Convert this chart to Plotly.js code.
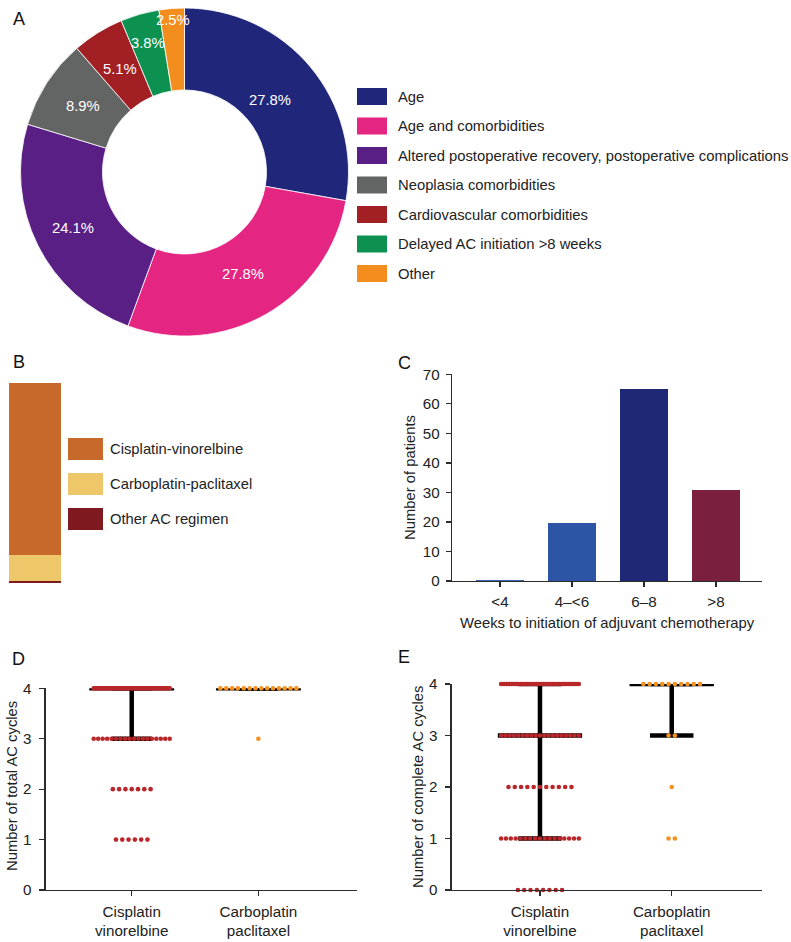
<!DOCTYPE html>
<html><head><meta charset="utf-8">
<script src="https://cdn.plot.ly/plotly-3.0.1.min.js"></script>
<style>html,body{margin:0;padding:0;background:#fff}#chart{width:791px;height:942px}</style>
</head><body><div id="chart"></div>
<script>
// ---------- Panel A: reasons ----------
const reasonLabels = ["Age","Age and comorbidities","Altered postoperative recovery, postoperative complications","Neoplasia comorbidities","Cardiovascular comorbidities","Delayed AC initiation >8 weeks","Other"];
const reasonPercents = [27.8,27.8,24.1,8.9,5.1,3.8,2.5];
const reasonColors = ["#20277a","#e52582","#5a1f85","#636464","#a21f24","#0d9150","#f38d1d"];

// ---------- Panel B: regimens ----------
const regimenLabels = ["Cisplatin-vinorelbine","Carboplatin-paclitaxel","Other AC regimen"];
const regimenCounts = [100,15,1];
const regimenColors = ["#c7692a","#edc76a","#7e1a1f"];

// ---------- Panel C: weeks to initiation ----------
const weekCategories = ["<4","4–<6","6–8",">8"];
const weekCounts = [0.5,19.6,65,30.7];
const weekColors = ["#3b67b6","#2d55a5","#1f2874","#7a1f3d"];

// ---------- Panels D/E: cycles ----------
const cycleLevels = [0,1,2,3,4];
const groupLabels = ["Cisplatin<br>vinorelbine","Carboplatin<br>paclitaxel"];
// patients per cycle level (0..4)
const totalCyclesCis = [0,6,7,18,69];
const totalCyclesCarbo = [0,0,0,1,14];
const totalMedian = [4,4], totalQ1 = [3,4], totalQ3 = [4,4];
const completeCyclesCis = [8,17,11,19,45];
const completeCyclesCarbo = [0,2,1,2,10];
const completeMedian = [3,4], completeQ1 = [1,3], completeQ3 = [4,4];
const groupDotColors = ["#b9272b","#f4901e"];

// ---------- helpers ----------
const W = 791, H = 942;
const px = p => p / W;
const py = p => 1 - p / H;
const FONT = "Liberation Sans, Arial, Helvetica, sans-serif";
const TXT = "#222";

function stripPoints(counts, center, nat, maxW) {
  const xs = [], ys = [];
  counts.forEach((n, k) => {
    if (!n) return;
    const sp = n > 1 ? Math.min(nat, maxW / (n - 1)) : 0;
    for (let i = 0; i < n; i++) { xs.push(center + (i - (n - 1) / 2) * sp); ys.push(cycleLevels[k]); }
  });
  return {xs, ys};
}
function summaryLines(meds, q1s, q3s, medHalf, capHalf) {
  const x = [], y = [];
  meds.forEach((m, g) => {
    x.push(g - medHalf, g + medHalf, null); y.push(m, m, null);
    x.push(g - capHalf, g + capHalf, null); y.push(q1s[g], q1s[g], null);
    x.push(g - capHalf, g + capHalf, null); y.push(q3s[g], q3s[g], null);
    x.push(g, g, null); y.push(q1s[g], q3s[g], null);
  });
  return {x, y};
}

const traces = [];
const annotations = [];
const shapes = [];

// ---------- A ----------
const pieC = {x: 184.5, y: 172, r: 164};
traces.push({
  type: "pie", labels: reasonLabels, values: reasonPercents, sort: false,
  direction: "clockwise", rotation: 0, hole: 0.5, textinfo: "none", hoverinfo: "label+value",
  marker: {colors: reasonColors, line: {color: "#ffffff", width: 0.8}},
  domain: {x: [px(pieC.x - pieC.r), px(pieC.x + pieC.r)], y: [py(pieC.y + pieC.r), py(pieC.y - pieC.r)]},
  showlegend: false
});
const labelRadius = [0.68,0.72,0.76,0.74,0.74,0.82,0.93];
const totalPct = reasonPercents.reduce((a, b) => a + b, 0);
let cum = 0;
reasonPercents.forEach((v, i) => {
  const mid = (cum + v / 2) / totalPct * 2 * Math.PI; cum += v;
  const rr = labelRadius[i] * pieC.r;
  annotations.push({xref: "paper", yref: "paper", x: px(pieC.x + rr * Math.sin(mid)), y: py(pieC.y - rr * Math.cos(mid)),
    xanchor: "center", yanchor: "middle",
    text: v.toFixed(1) + "%", showarrow: false, font: {family: FONT, size: 14.8, color: "#ffffff"}});
});
reasonLabels.forEach((lab, i) => {
  const cy = 96.5 + i * 29.5;
  shapes.push({type: "rect", xref: "paper", yref: "paper", x0: px(357), x1: px(387), y0: py(cy - 8.5), y1: py(cy + 8.5),
    fillcolor: reasonColors[i], line: {width: 0}});
  annotations.push({xref: "paper", yref: "paper", x: px(396), y: py(cy), xanchor: "left", yanchor: "middle",
    text: lab, showarrow: false, font: {family: FONT, size: 14.8, color: TXT}});
});

// ---------- B ----------
for (let i = regimenLabels.length - 1; i >= 0; i--) {
  traces.push({type: "bar", x: [0], y: [regimenCounts[i]], width: 1, name: regimenLabels[i],
    marker: {color: regimenColors[i], line: {width: 0}}, xaxis: "x2", yaxis: "y2", hoverinfo: "name+y"});
}
regimenLabels.forEach((lab, i) => {
  const cy = 449 + i * 35;
  shapes.push({type: "rect", xref: "paper", yref: "paper", x0: px(68), x1: px(103), y0: py(cy - 11), y1: py(cy + 11),
    fillcolor: regimenColors[i], line: {width: 0}});
  annotations.push({xref: "paper", yref: "paper", x: px(108), y: py(cy), xanchor: "left", yanchor: "middle",
    text: lab, showarrow: false, font: {family: FONT, size: 14.8, color: TXT}});
});

// ---------- C ----------
traces.push({type: "bar", x: weekCategories, y: weekCounts, width: 0.66, marker: {color: weekColors, line: {width: 0}},
  xaxis: "x3", yaxis: "y3", hoverinfo: "x+y"});

// ---------- D ----------
const dLines = summaryLines(totalMedian, totalQ1, totalQ3, 0.335, 0.158);
traces.push({type: "scatter", mode: "lines", x: dLines.x, y: dLines.y, line: {color: "#000", width: 4.5},
  xaxis: "x4", yaxis: "y4", hoverinfo: "skip", cliponaxis: false});
[totalCyclesCis, totalCyclesCarbo].forEach((counts, g) => {
  const p = stripPoints(counts, g, 0.0497, 0.6);
  traces.push({type: "scatter", mode: "markers", x: p.xs, y: p.ys, marker: {color: groupDotColors[g], size: 4.6},
    xaxis: "x4", yaxis: "y4", cliponaxis: false, hoverinfo: "y"});
});

// ---------- E ----------
const eLines = summaryLines(completeMedian, completeQ1, completeQ3, 0.32, 0.165);
traces.push({type: "scatter", mode: "lines", x: eLines.x, y: eLines.y, line: {color: "#000", width: 4.5},
  xaxis: "x5", yaxis: "y5", hoverinfo: "skip", cliponaxis: false});
[completeCyclesCis, completeCyclesCarbo].forEach((counts, g) => {
  const p = stripPoints(counts, g, 0.0478, 0.59);
  traces.push({type: "scatter", mode: "markers", x: p.xs, y: p.ys, marker: {color: groupDotColors[g], size: 4.6},
    xaxis: "x5", yaxis: "y5", cliponaxis: false, hoverinfo: "y"});
});

// ---------- titles & panel letters ----------
function ann(x, y, text, opts) {
  annotations.push(Object.assign({xref: "paper", yref: "paper", x: px(x), y: py(y), text, showarrow: false,
    xanchor: "center", yanchor: "middle", font: {family: FONT, size: 14.8, color: TXT}}, opts || {}));
}
ann(410, 478, "Number of patients", {textangle: -90});
ann(607, 623, "Weeks to initiation of adjuvant chemotherapy");
ann(12, 786, "Number of total AC cycles", {textangle: -90});
ann(418, 787, "Number of complete AC cycles", {textangle: -90});
const letterFont = {family: FONT, size: 18, color: "#111"};
ann(18.5, 19, "A", {font: letterFont});
ann(19, 361.5, "B", {font: letterFont});
ann(404.5, 362.5, "C", {font: letterFont});
ann(18.5, 658.5, "D", {font: letterFont});
ann(404, 656.5, "E", {font: letterFont});

// ---------- axes ----------
const axBase = {showline: true, linecolor: "#2b2b2b", linewidth: 1.3, ticks: "outside", ticklen: 5, tickwidth: 1.3,
  tickcolor: "#2b2b2b", showgrid: false, zeroline: false, fixedrange: true,
  tickfont: {family: FONT, size: 15.2, color: TXT}};
const hidden = {visible: false, showgrid: false, zeroline: false, fixedrange: true};

const layout = {
  width: W, height: H, margin: {l: 0, r: 0, t: 0, b: 0}, showlegend: false,
  paper_bgcolor: "#ffffff", plot_bgcolor: "rgba(0,0,0,0)", barmode: "stack",
  font: {family: FONT, color: TXT},
  xaxis2: Object.assign({}, hidden, {domain: [px(9), px(61)], range: [-0.5, 0.5], anchor: "y2"}),
  yaxis2: Object.assign({}, hidden, {domain: [py(583), py(383)], range: [0, regimenCounts.reduce((a, b) => a + b, 0)], anchor: "x2"}),
  xaxis3: Object.assign({}, axBase, {domain: [px(452), px(762)], type: "category", range: [-0.667, 3.64], anchor: "y3", ticklabelstandoff: 1}),
  yaxis3: Object.assign({}, axBase, {domain: [py(581), py(374.3)], range: [0, 70], dtick: 10, anchor: "x3", ticklabelstandoff: 3}),
  xaxis4: Object.assign({}, axBase, {domain: [px(45.7), px(356.7)], range: [-0.679, 1.776], tickvals: [0, 1], ticktext: groupLabels, anchor: "y4", ticklabelstandoff: 2}),
  yaxis4: Object.assign({}, axBase, {domain: [py(890), py(688.3)], range: [0, 4], dtick: 1, anchor: "x4", ticklabelstandoff: 5}),
  xaxis5: Object.assign({}, axBase, {domain: [px(451.7), px(761.7)], range: [-0.67, 1.683], tickvals: [0, 1], ticktext: groupLabels, anchor: "y5", ticklabelstandoff: 2}),
  yaxis5: Object.assign({}, axBase, {domain: [py(890), py(684)], range: [0, 4], dtick: 1, anchor: "x5", ticklabelstandoff: 5}),
  shapes, annotations
};

Plotly.newPlot("chart", traces, layout, {staticPlot: true, displayModeBar: false});
</script>
</body></html>
